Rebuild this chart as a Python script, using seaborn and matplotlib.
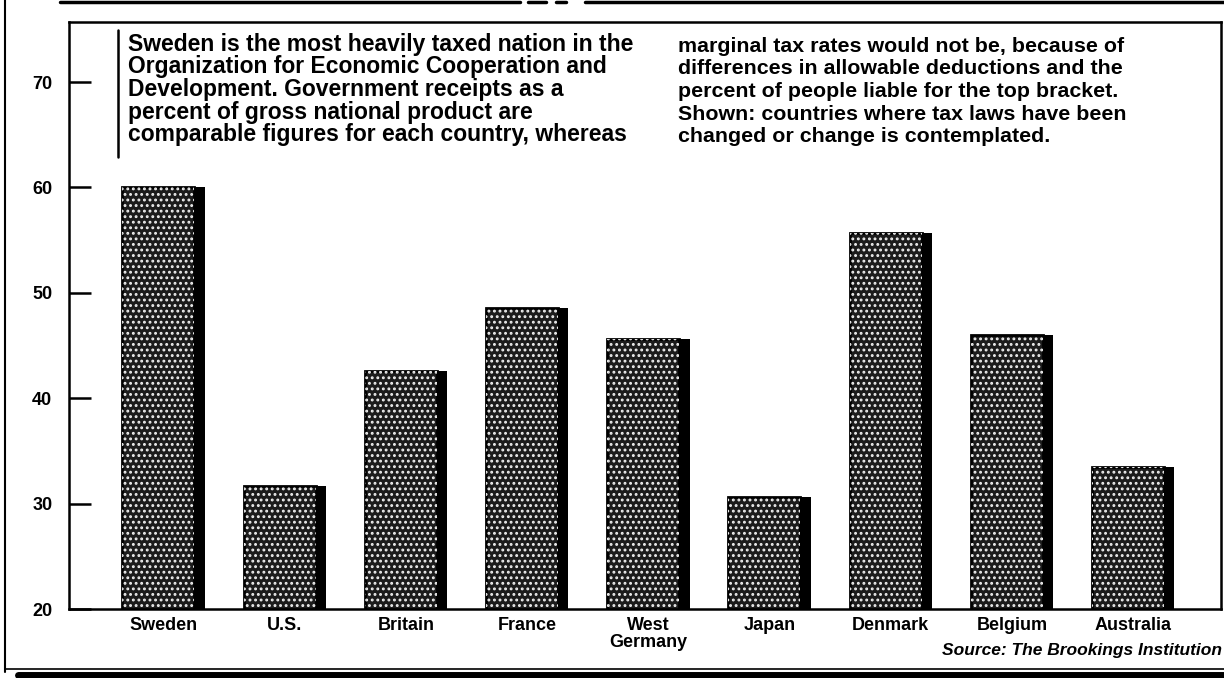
import matplotlib
matplotlib.use("Agg")
import matplotlib.pyplot as plt
from matplotlib.lines import Line2D
from matplotlib.patches import Rectangle
import pandas as pd
import seaborn as sns

# Government receipts as a percent of gross national product
countries = ["Sweden", "U.S.", "Britain", "France", "West\nGermany",
             "Japan", "Denmark", "Belgium", "Australia"]
receipts_pct_gnp = [60.0, 31.7, 42.6, 48.6, 45.6, 30.6, 55.7, 46.0, 33.5]
y_ticks = [20, 30, 40, 50, 60, 70]

note_left = [
    "Sweden is the most heavily taxed nation in the",
    "Organization for Economic Cooperation and",
    "Development. Government receipts as a",
    "percent of gross national product are",
    "comparable figures for each country, whereas",
]
note_right = [
    "marginal tax rates would not be, because of",
    "differences in allowable deductions and the",
    "percent of people liable for the top bracket.",
    "Shown: countries where tax laws have been",
    "changed or change is contemplated.",
]
source_note = "Source: The Brookings Institution"

sns.set_theme(style="white")
plt.rcParams["font.family"] = ["Liberation Sans", "DejaVu Sans"]
plt.rcParams["hatch.linewidth"] = 1.3

W, H = 1224, 678
fig = plt.figure(figsize=(W / 100, H / 100), dpi=100)
fig.patch.set_facecolor("white")


def fx(px):
    return px / W


def fy(py):
    return 1 - py / H


ax = fig.add_axes([fx(69), fy(609), fx(1221) - fx(69), fy(22) - fy(609)])
ax.set_facecolor("white")

df = pd.DataFrame({"country": countries, "receipts": receipts_pct_gnp})

BAR_W = 0.68
SHADOW_W = 0.085

# black drop-shadow layer (full width)
sns.barplot(data=df, x="country", y="receipts", color="black", width=BAR_W,
            saturation=1, linewidth=0, ax=ax)
n_shadow = len(ax.patches)
# stippled face layer
sns.barplot(data=df, x="country", y="receipts", color="#1c1c1c", width=BAR_W,
            saturation=1, linewidth=0, ax=ax)

for p in ax.patches[n_shadow:]:
    p.set_width(p.get_width() - SHADOW_W)
    p.set_edgecolor("black")
    p.set_linewidth(2.0)
    dots = Rectangle((p.get_x(), p.get_y()), p.get_width(), p.get_height(),
                     fill=False, hatch="...", edgecolor="#eeeeee",
                     linewidth=0, zorder=p.get_zorder() + 0.1)
    ax.add_patch(dots)

ax.set_xlim(-0.78, 8.725)
ax.set_ylim(20, 75.7)
ax.set_yticks(y_ticks)
ax.set_yticklabels([str(t) for t in y_ticks], fontsize=13, fontweight="bold")
ax.set_xticks(range(len(countries)))
ax.set_xticklabels(countries, fontsize=13, fontweight="bold", linespacing=1.0)
ax.tick_params(axis="y", direction="in", length=16, width=1.8, pad=12,
               left=True, colors="black")
ax.tick_params(axis="x", length=0, pad=6, colors="black")
ax.set_xlabel("")
ax.set_ylabel("")
for s in ax.spines.values():
    s.set_visible(True)
    s.set_color("black")
    s.set_linewidth(1.8)

# explanatory note in two columns
baselines = [51, 73.5, 96, 118.5, 141]
for line, b in zip(note_left, baselines):
    fig.text(fx(128), fy(b), line, fontsize=16.5, fontweight="bold",
             ha="left", va="baseline", color="black")
for line, b in zip(note_right, baselines):
    fig.text(fx(678), fy(b + 1), line, fontsize=15.4, fontweight="bold",
             ha="left", va="baseline", color="black")
fig.add_artist(Line2D([fx(118), fx(118)], [fy(30), fy(157)],
                      color="black", linewidth=1.8))

fig.text(fx(1222), fy(650), source_note, fontsize=12.5, fontweight="bold",
         fontstyle="italic", ha="right", va="center", color="black")

# outer rules of the graphic
fig.add_artist(Line2D([fx(5), fx(5)], [fy(0), fy(672)], color="black", linewidth=1.5))
for x0, x1 in [(60, 520), (528, 546), (556, 566), (585, 1224)]:
    fig.add_artist(Line2D([fx(x0), fx(x1)], [fy(1.5), fy(1.5)],
                          color="black", linewidth=2.5))
fig.add_artist(Line2D([fx(5), fx(1224)], [fy(669), fy(669)], color="black", linewidth=1.2))
fig.add_artist(Line2D([fx(18), fx(1224)], [fy(674.5), fy(674.5)], color="black", linewidth=5))

fig.savefig("out.png", dpi=100, facecolor="white")
